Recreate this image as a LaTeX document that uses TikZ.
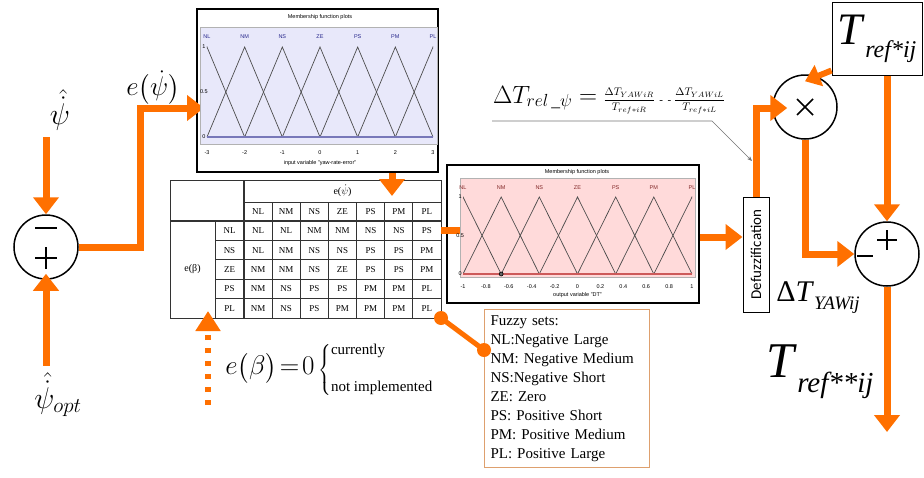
\documentclass[tikz,border=0pt]{standalone}
\usepackage{fix-cm}
\usepackage{amsmath}
\usepackage{fontspec}
\setmainfont{Liberation Serif}
\setsansfont{Liberation Sans}
\newfontfamily\calibrifont{Carlito}
\usepackage{tikz}
\usetikzlibrary{arrows.meta, positioning, calc}

\definecolor{flowor}{RGB}{255,112,0}
\definecolor{lavbg}{RGB}{232,232,250}
\definecolor{lavline}{RGB}{120,120,185}
\definecolor{pinkbg}{RGB}{255,218,218}
\definecolor{pinkline}{RGB}{205,90,90}
\definecolor{legbrd}{RGB}{222,160,110}
\definecolor{inlab}{RGB}{40,40,140}
\definecolor{outlab}{RGB}{130,40,40}

% italic T with a smaller, lowered index
\newcommand{\Tlab}[4]{{\fontsize{#1}{#1}\selectfont\textit{T}}\raisebox{-#3}{\fontsize{#2}{#2}\selectfont\textit{#4}}}

\tikzset{
  oflow/.style={draw=flowor, line width=7pt, -{Triangle[length=17pt,width=25pt]}},
  junc/.style={circle, draw, line width=1.5pt, minimum size=64pt, inner sep=0pt},
  pmsign/.style={line width=1.6pt},
  plotbox/.style={draw, line width=2pt, inner sep=0pt},
  plottext/.style={font=\sffamily\fontsize{5.5}{6}\selectfont, inner sep=0.5pt},
  mfline/.style={draw=black!70, line width=0.7pt},
  tline/.style={draw=black!80, line width=0.7pt},
  cell/.style={font=\fontsize{9}{10}\selectfont, inner sep=0pt},
  biglab/.style={inner sep=0pt},
}

\begin{document}
\begin{tikzpicture}[x=1pt, y=-1pt]
\useasboundingbox (0,0) rectangle (924,477);

% Yaw rate error junction
\node[junc] (sumL) at (46,247) {};
\draw[pmsign] (35,228) -- (57,228);
\draw[pmsign] (35,258) -- (57,258) (46,247) -- (46,269);
\node[biglab, font=\fontsize{30}{30}\selectfont] (psi) at (60,110) {$\hat{\dot{\psi}}$};
\node[biglab, font=\fontsize{30}{30}\selectfont] (psiopt) at (58,395) {$\hat{\dot{\psi}}_{opt}$};
\draw[oflow] ($(sumL.north)+(0,-77)$) -- (sumL.north);
\draw[oflow] ($(sumL.south)+(0,86)$) -- ($(sumL.south)+(0,-6)$);

% Input membership functions
\node[plotbox, minimum width=241pt, minimum height=163pt] (mfin) at (317.5,90.5) {};
\coordinate (kink) at (140,108);
\draw[oflow] (sumL.east) -| (kink) -- ($(mfin.west |- kink)+(8,0)$);
\node[biglab, font=\fontsize{27}{27}\selectfont] (epsi) at (153,88) {$e\big(\dot{\psi}\big)$};

\fill[lavbg] (200,27) rectangle (437,144);
\draw[black!30, line width=0.4pt] (200,27) rectangle (437,144);
\node[plottext] (mfinT) at (320,17) {Membership function plots};
\begin{scope}[shift={(320,137)}, x=37.67pt, y=90pt]
  \begin{scope}
    \clip (-3,-0.05) rectangle (3,1.05);
    \foreach \p in {-3,...,3}
      \draw[mfline] (\p-1,0) -- (\p,1) -- (\p+1,0);
  \end{scope}
  \draw[lavline, line width=2pt] (-3,0) -- (3,0);
  \foreach \p/\n in {-3/NL,-2/NM,-1/NS,0/ZE,1/PS,2/PM,3/PL}
    \node[plottext, text=inlab] (in\n) at (\p,1.11) {\n};
  \foreach \p [count=\k] in {-3,...,3}
    \node[plottext] (inx\k) at (\p,-0.17) {\p};
  \foreach \v/\n in {1/a,0.5/b,0/c}
    \node[plottext] (iny\n) at (-3.08,\v) {\v};
  \node[plottext] (inxl) at (0,-0.29) {input variable "yaw-rate-error"};
\end{scope}

% Rule table
\def\cw{28.14}
\def\rh{19.4}
\draw[tline] (170,180) rectangle (441,318);
\draw[tline] (244,202) -- (441,202);
\draw[tline, line width=1.3pt] (170,221) -- (441,221);
\draw[tline, line width=1.3pt] (244,180) -- (244,318);
\draw[tline] (215,221) -- (215,318);
\foreach \k in {1,...,6}
  \draw[tline] (244+\k*\cw,202) -- (244+\k*\cw,318);
\foreach \k in {1,...,4}
  \draw[tline] (215,221+\k*\rh) -- (441,221+\k*\rh);

\node[cell, font=\fontsize{10}{10}\selectfont] (hpsi) at (342.5,191) {e($\dot{\psi}$)};
\node[cell, font=\fontsize{10}{10}\selectfont] (hbeta) at (192.5,269.5) {e(β)};
\foreach \n [count=\c] in {NL,NM,NS,ZE,PS,PM,PL}
  \node[cell] (h\n) at (244+\c*\cw-\cw/2,211.5) {\n};
\foreach \n [count=\r] in {NL,NS,ZE,PS,PL}
  \node[cell] (r\n) at (229.5,221+\r*\rh-\rh/2) {\n};
\foreach \row [count=\r] in {{NL,NL,NM,NM,NS,NS,PS},{NL,NM,NS,NS,PS,PS,PM},
    {NM,NM,NS,ZE,PS,PS,PM},{NM,NS,PS,PS,PM,PM,PL},{NM,NS,PS,PM,PM,PM,PL}}{
  \foreach \v [count=\c] in \row
    \node[cell] (c\r-\c) at (244+\c*\cw-\cw/2,221+\r*\rh-\rh/2) {\v};
}

\coordinate (tarr) at (392,196);
\draw[oflow] (mfin.south -| tarr) -- (tarr);

% e(beta) input, not used yet
\draw[flowor, line width=6pt, dash pattern=on 5pt off 8pt,
  -{Triangle[length=20pt,width=24pt]}] (208,405) -- (208,311);
\node[biglab, font=\fontsize{27}{27}\selectfont] (ebeta) at (270,368) {$e\big(\beta\big)\!=\!0$};
\node[biglab, anchor=west, font=\fontsize{15}{17}\selectfont] (ebcase) at (318,370)
  {$\left\{\begin{array}{@{}l@{}}\text{currently}\\[20pt]\text{not implemented}\end{array}\right.$};

% Output membership functions
\node[plotbox, minimum width=252pt, minimum height=138pt] (mfout) at (573,234) {};
\coordinate (tr) at (441,230);
\draw[oflow] (tr) -- ($(mfout.west |- tr)+(35,0)$);
\fill[pinkbg] (460,178) rectangle (695,277);
\draw[black!30, line width=0.4pt] (460,178) rectangle (695,277);
\node[plottext] (mfoutT) at (577,172) {Membership function plots};
\begin{scope}[shift={(577.5,274)}, x=114.5pt, y=77pt]
  \begin{scope}
    \clip (-1,-0.05) rectangle (1,1.05);
    \foreach \i in {-3,...,3}
      \draw[mfline] (\i/3-1/3,0) -- (\i/3,1) -- (\i/3+1/3,0);
  \end{scope}
  \draw[pinkline, line width=1.2pt] (-1,0) -- (1,0);
  \draw[fill=black!60, line width=0.6pt] (-2/3,0) circle (2pt);
  \foreach \i/\n in {-3/NL,-2/NM,-1/NS,0/ZE,1/PS,2/PM,3/PL}
    \node[plottext, text=outlab] (out\n) at (\i/3,1.12) {\n};
  \foreach \t [count=\k] in {-1,-0.8,-0.6,-0.4,-0.2,0,0.2,0.4,0.6,0.8,1}
    \node[plottext] (outx\k) at (\t,-0.16) {\t};
  \foreach \v/\n in {1/a,0.5/b,0/c}
    \node[plottext] (outy\n) at (-1.025,\v) {\v};
  \node[plottext] (outxl) at (0,-0.27) {output variable "DT"};
\end{scope}

% Fuzzy set names
\node[draw=legbrd, line width=1pt, anchor=north west, align=left, inner sep=6pt,
  text width=153pt, font=\fontsize{15}{19}\selectfont] (fzsets) at (484,309)
  {Fuzzy sets:\\NL:Negative Large\\NM: Negative Medium\\NS:Negative Short\\
   ZE: Zero\\PS: Positive Short\\PM: Positive Medium\\PL: Positive Large};
\coordinate (tbr) at (441,318);
\coordinate (fzpin) at ($(fzsets.north west)+(0,41)$);
\draw[flowor, line width=5pt] (tbr) -- (fzpin);
\fill[flowor] (tbr) circle (7pt) (fzpin) circle (7pt);

% Defuzzification and torque correction
\node[draw, line width=1pt, rotate=90, minimum width=115pt, minimum height=26pt,
  inner sep=0pt, font=\calibrifont\fontsize{15}{15}\selectfont] (defu) at (756,254.5) {Defuzzification};
\coordinate (dy) at (0,237);
\draw[oflow] (mfout.east |- dy) -- (defu.north |- dy);

\node[biglab, font=\fontsize{25}{30}\selectfont] (ftrel) at (609,100)
  {$\Delta T_{rel\,\_\psi} =$ {\fontsize{11}{13}\selectfont$\dfrac{\Delta T_{YAWiR}}{T_{ref*iR}}$ \,-\, - $\dfrac{\Delta T_{YAWiL}}{T_{ref*iL}}$}};
\coordinate (ulA) at (492,121);
\coordinate (ulB) at (712,121);
\coordinate (fptr) at (752,161);
\draw[black!55, line width=0.6pt, -{Stealth[length=5pt,width=4pt]}] (ulA) -- (ulB) -- (fptr);

\node[junc] (mult) at (805,107) {};
\draw[pmsign] (797,99) -- (813,115) (797,115) -- (813,99);
\draw[oflow] (defu.east) |- ($(mult.west)+(15,1)$);

\node[draw, line width=1pt, minimum width=90pt, minimum height=73pt, inner sep=0pt] (tref) at (877,38.5)
  {\Tlab{45pt}{24pt}{13pt}{ref*ij}};
\draw[oflow, line width=6pt, -{Triangle[length=15pt,width=22pt]}] ($(tref.south west)+(0,-5)$) -- ($(mult.north)+(0,7)$);

\node[junc] (sumR) at (887,254) {};
\draw[pmsign] (877,240) -- (897,240) (887,230) -- (887,250);
\draw[pmsign] (857,256) -- (873,256);
\draw[oflow] (tref.south -| sumR) -- (sumR.north);
\draw[oflow] (mult.south) |- (sumR.west);
\coordinate (tout) at (887,432);
\draw[oflow] (sumR.south) -- (tout);

\node[biglab] (dtyaw) at (818,298)
  {{\fontsize{30}{30}\selectfont Δ}\Tlab{30pt}{19pt}{8pt}{YAWij}};
\node[biglab] (trefout) at (820,372) {\Tlab{50pt}{29pt}{15pt}{ref**ij}};

\end{tikzpicture}
\end{document}
